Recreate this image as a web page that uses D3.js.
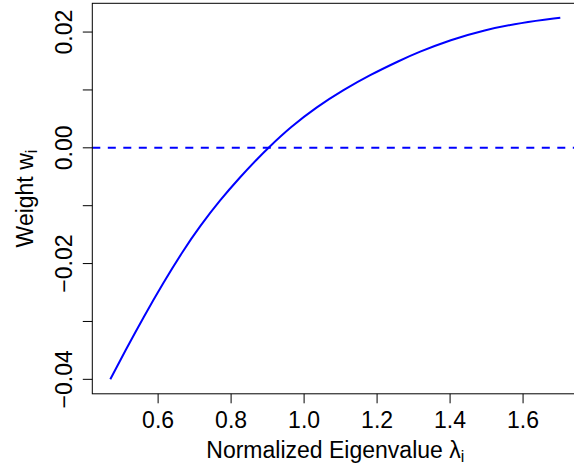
<!DOCTYPE html>
<html>
<head>
<meta charset="utf-8">
<script src="https://cdn.jsdelivr.net/npm/d3@7"></script>
<style>
  body { margin: 0; background: #fff; }
  text { font-family: "Liberation Sans", Arial, Helvetica, sans-serif; fill: #000; }
</style>
</head>
<body>
<svg id="chart" width="574" height="463"></svg>
<script>
// values
var lambda = [0.469, 0.515, 0.559, 0.614, 0.669, 0.715, 0.770, 0.825, 0.872, 0.902,
              0.962, 1.035, 1.108, 1.181, 1.263, 1.311, 1.402, 1.493, 1.594, 1.702];
var weight = [-0.0400, -0.03447, -0.02938, -0.02333, -0.01772, -0.01350, -0.00901, -0.00504, -0.00189, 0.0000,
              0.00354, 0.00708, 0.01001, 0.01260, 0.01510, 0.01647, 0.01867, 0.02035, 0.02161, 0.02247];
var xTicks = [0.6, 0.8, 1.0, 1.2, 1.4, 1.6];
var yTicks = [-0.04, -0.03, -0.02, -0.01, 0.00, 0.01, 0.02];
var yLabels = [-0.04, -0.02, 0.00, 0.02];

var svg = d3.select("#chart");
// plot region (right edge runs past the window, as in the reference)
var pLeft = 92.3, pRight = 578.3, pTop = 3.3, pBottom = 393.8;

// R style 4% padding on each side
function pad(ext) {
  var d = (ext[1] - ext[0]) * 0.04;
  return [ext[0] - d, ext[1] + d];
}
var x = d3.scaleLinear().domain(pad(d3.extent(lambda))).range([pLeft, pRight]);
var y = d3.scaleLinear().domain(pad(d3.extent(weight))).range([pBottom, pTop]);

var fmt = function (v) { return d3.format(".2f")(v).replace("-", "\u2212"); };

// dashed zero line
svg.append("line")
  .attr("x1", pLeft).attr("x2", pRight)
  .attr("y1", y(0)).attr("y2", y(0))
  .attr("stroke", "#0000ff").attr("stroke-width", 2)
  .attr("stroke-dasharray", "8,7.5");

// curve, smoothed through the read points
var pts = lambda.map(function (l, i) { return [l, weight[i]]; });
var line = d3.line()
  .x(function (d) { return x(d[0]); })
  .y(function (d) { return y(d[1]); })
  .curve(d3.curveBasis);
svg.append("path")
  .datum(pts)
  .attr("d", line)
  .attr("fill", "none")
  .attr("stroke", "#0000ff").attr("stroke-width", 2);

// plot box
svg.append("rect")
  .attr("x", pLeft).attr("y", pTop)
  .attr("width", pRight - pLeft).attr("height", pBottom - pTop)
  .attr("fill", "none").attr("stroke", "#000").attr("stroke-width", 1);

// x axis
var xAxis = svg.append("g");
xAxis.selectAll("line").data(xTicks).enter().append("line")
  .attr("x1", function (d) { return x(d); }).attr("x2", function (d) { return x(d); })
  .attr("y1", pBottom).attr("y2", pBottom + 9.5)
  .attr("stroke", "#000");
xAxis.selectAll("text").data(xTicks).enter().append("text")
  .attr("x", function (d) { return x(d); })
  .attr("y", 428)
  .attr("text-anchor", "middle")
  .style("font-size", "23px")
  .text(function (d) { return d3.format(".1f")(d); });

// y axis
var yAxis = svg.append("g");
yAxis.selectAll("line").data(yTicks).enter().append("line")
  .attr("x1", pLeft - 9.5).attr("x2", pLeft)
  .attr("y1", function (d) { return y(d); }).attr("y2", function (d) { return y(d); })
  .attr("stroke", "#000");
yAxis.selectAll("text").data(yLabels).enter().append("text")
  .attr("transform", function (d) { return "translate(71.5," + y(d) + ") rotate(-90)"; })
  .attr("text-anchor", "middle")
  .style("font-size", "23px")
  .text(fmt);

// axis titles
var xt = svg.append("text")
  .attr("x", (pLeft + pRight) / 2).attr("y", 457.5)
  .attr("text-anchor", "middle")
  .style("font-size", "23px");
xt.append("tspan").text("Normalized Eigenvalue \u03bb");
xt.append("tspan").attr("dy", 4).style("font-size", "16px").text("i");

var yt = svg.append("text")
  .attr("transform", "translate(33," + (pTop + pBottom) / 2 + ") rotate(-90)")
  .attr("text-anchor", "middle")
  .style("font-size", "23px");
yt.append("tspan").text("Weight w");
yt.append("tspan").attr("dy", 4).style("font-size", "16px").text("i");
</script>
</body>
</html>
